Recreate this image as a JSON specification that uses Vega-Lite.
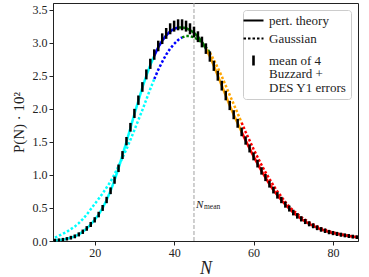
{
"$schema": "https://vega.github.io/schema/vega-lite/v6.json",
"width": 305, "height": 238,
"autosize": "none",
"padding": {"left": 53, "top": 3, "right": 11, "bottom": 36},
"config": {
 "font": "Liberation Serif",
 "view": {"stroke": "#222", "strokeWidth": 1},
 "axis": {"grid": false, "domainColor": "#222", "tickColor": "#222", "labelColor": "#222", "titleColor": "#222", "labelFont": "Liberation Serif", "titleFont": "Liberation Serif", "labelFontSize": 12, "tickSize": 4, "titleFontWeight": "normal", "labelPadding": 2},
 "axisY": {"tickCount": 8, "labelOverlap": false}
},
"datasets": {
 "pert": [
  {"N":10,"p":0.01,"s":"a"},{"N":11,"p":0.015,"s":"a"},{"N":12,"p":0.022,"s":"a"},{"N":13,"p":0.033,"s":"a"},{"N":14,"p":0.05,"s":"a"},{"N":15,"p":0.07,"s":"a"},{"N":16,"p":0.10,"s":"a"},{"N":17,"p":0.14,"s":"a"},{"N":18,"p":0.19,"s":"a"},{"N":19,"p":0.25,"s":"a"},{"N":20,"p":0.32,"s":"a"},{"N":21,"p":0.40,"s":"a"},{"N":22,"p":0.50,"s":"a"},{"N":23,"p":0.62,"s":"a"},{"N":24,"p":0.76,"s":"a"},{"N":25,"p":0.92,"s":"a"},{"N":26,"p":1.10,"s":"a"},{"N":27,"p":1.30,"s":"a"},{"N":28,"p":1.50,"s":"a"},{"N":29,"p":1.71,"s":"a"},{"N":30,"p":1.92,"s":"a"},{"N":31,"p":2.12,"s":"a"},{"N":32,"p":2.32,"s":"a"},{"N":33,"p":2.50,"s":"a"},{"N":34,"p":2.66,"s":"a"},{"N":35,"p":2.80,"s":"a"},
  {"N":35,"p":2.80,"s":"b"},{"N":36,"p":2.93,"s":"b"},{"N":37,"p":3.03,"s":"b"},{"N":38,"p":3.11,"s":"b"},{"N":39,"p":3.17,"s":"b"},{"N":40,"p":3.21,"s":"b"},{"N":41,"p":3.23,"s":"b"},
  {"N":41,"p":3.23,"s":"c"},{"N":42,"p":3.23,"s":"c"},{"N":43,"p":3.22,"s":"c"},{"N":44,"p":3.19,"s":"c"},{"N":45,"p":3.15,"s":"c"},{"N":46,"p":3.09,"s":"c"},{"N":47,"p":3.01,"s":"c"},{"N":48,"p":2.91,"s":"c"},
  {"N":48,"p":2.91,"s":"d"},{"N":49,"p":2.79,"s":"d"},{"N":50,"p":2.65,"s":"d"},{"N":51,"p":2.50,"s":"d"},{"N":52,"p":2.35,"s":"d"},{"N":53,"p":2.20,"s":"d"},{"N":54,"p":2.05,"s":"d"},{"N":55,"p":1.91,"s":"d"},{"N":56,"p":1.78,"s":"d"},{"N":57,"p":1.65,"s":"d"},
  {"N":57,"p":1.65,"s":"e"},{"N":58,"p":1.52,"s":"e"},{"N":59,"p":1.40,"s":"e"},{"N":60,"p":1.28,"s":"e"},{"N":61,"p":1.17,"s":"e"},{"N":62,"p":1.06,"s":"e"},{"N":63,"p":0.96,"s":"e"},{"N":64,"p":0.86,"s":"e"},{"N":65,"p":0.77,"s":"e"},{"N":66,"p":0.69,"s":"e"},{"N":67,"p":0.62,"s":"e"},{"N":68,"p":0.55,"s":"e"},{"N":69,"p":0.49,"s":"e"},{"N":70,"p":0.43,"s":"e"},{"N":71,"p":0.38,"s":"e"},{"N":72,"p":0.335,"s":"e"},{"N":73,"p":0.295,"s":"e"},{"N":74,"p":0.26,"s":"e"},{"N":75,"p":0.23,"s":"e"},{"N":76,"p":0.20,"s":"e"},{"N":77,"p":0.175,"s":"e"},{"N":78,"p":0.155,"s":"e"},{"N":79,"p":0.135,"s":"e"},{"N":80,"p":0.12,"s":"e"},{"N":81,"p":0.107,"s":"e"},{"N":82,"p":0.095,"s":"e"},{"N":83,"p":0.085,"s":"e"},{"N":84,"p":0.075,"s":"e"},{"N":85,"p":0.066,"s":"e"},{"N":86,"p":0.058,"s":"e"}
 ],
 "gauss": [
  {"N":10,"g":0.05,"s":"a"},{"N":11,"g":0.08,"s":"a"},{"N":12,"g":0.11,"s":"a"},{"N":13,"g":0.14,"s":"a"},{"N":14,"g":0.18,"s":"a"},{"N":15,"g":0.22,"s":"a"},{"N":16,"g":0.27,"s":"a"},{"N":17,"g":0.33,"s":"a"},{"N":18,"g":0.40,"s":"a"},{"N":19,"g":0.48,"s":"a"},{"N":20,"g":0.56,"s":"a"},{"N":21,"g":0.64,"s":"a"},{"N":22,"g":0.72,"s":"a"},{"N":23,"g":0.81,"s":"a"},{"N":24,"g":0.90,"s":"a"},{"N":25,"g":1.01,"s":"a"},{"N":26,"g":1.13,"s":"a"},{"N":27,"g":1.26,"s":"a"},{"N":28,"g":1.39,"s":"a"},{"N":29,"g":1.53,"s":"a"},{"N":30,"g":1.68,"s":"a"},{"N":31,"g":1.83,"s":"a"},{"N":32,"g":1.98,"s":"a"},{"N":33,"g":2.14,"s":"a"},{"N":34,"g":2.30,"s":"a"},{"N":35,"g":2.45,"s":"a"},
  {"N":35,"g":2.45,"s":"b"},{"N":36,"g":2.59,"s":"b"},{"N":37,"g":2.71,"s":"b"},{"N":38,"g":2.82,"s":"b"},{"N":39,"g":2.91,"s":"b"},{"N":40,"g":2.98,"s":"b"},{"N":41,"g":3.04,"s":"b"},{"N":42,"g":3.08,"s":"b"},
  {"N":42,"g":3.08,"s":"c"},{"N":43,"g":3.10,"s":"c"},{"N":44,"g":3.10,"s":"c"},{"N":45,"g":3.08,"s":"c"},{"N":46,"g":3.05,"s":"c"},{"N":47,"g":3.00,"s":"c"},{"N":48,"g":2.93,"s":"c"},{"N":49,"g":2.85,"s":"c"},
  {"N":49,"g":2.85,"s":"d"},{"N":50,"g":2.74,"s":"d"},{"N":51,"g":2.62,"s":"d"},{"N":52,"g":2.49,"s":"d"},{"N":53,"g":2.35,"s":"d"},{"N":54,"g":2.21,"s":"d"},{"N":55,"g":2.07,"s":"d"},{"N":56,"g":1.93,"s":"d"},{"N":57,"g":1.79,"s":"d"},
  {"N":57,"g":1.79,"s":"e"},{"N":58,"g":1.65,"s":"e"},{"N":59,"g":1.52,"s":"e"},{"N":60,"g":1.39,"s":"e"},{"N":61,"g":1.27,"s":"e"},{"N":62,"g":1.15,"s":"e"},{"N":63,"g":1.04,"s":"e"},{"N":64,"g":0.94,"s":"e"},{"N":65,"g":0.84,"s":"e"},{"N":66,"g":0.75,"s":"e"},{"N":67,"g":0.67,"s":"e"},{"N":68,"g":0.59,"s":"e"},{"N":69,"g":0.52,"s":"e"},{"N":70,"g":0.46,"s":"e"},{"N":71,"g":0.41,"s":"e"},{"N":72,"g":0.36,"s":"e"},{"N":73,"g":0.32,"s":"e"},{"N":74,"g":0.28,"s":"e"},{"N":75,"g":0.25,"s":"e"},{"N":76,"g":0.22,"s":"e"},{"N":77,"g":0.19,"s":"e"},{"N":78,"g":0.17,"s":"e"},{"N":79,"g":0.15,"s":"e"},{"N":80,"g":0.13,"s":"e"},{"N":81,"g":0.115,"s":"e"},{"N":82,"g":0.10,"s":"e"},{"N":83,"g":0.09,"s":"e"},{"N":84,"g":0.08,"s":"e"},{"N":85,"g":0.07,"s":"e"},{"N":86,"g":0.06,"s":"e"}
 ],
 "bz": [
  {"N":10,"m":0.01,"e":0.024},{"N":11,"m":0.015,"e":0.024},{"N":12,"m":0.022,"e":0.025},{"N":13,"m":0.033,"e":0.026},{"N":14,"m":0.05,"e":0.028},{"N":15,"m":0.07,"e":0.029},{"N":16,"m":0.10,"e":0.031},{"N":17,"m":0.14,"e":0.033},{"N":18,"m":0.19,"e":0.035},{"N":19,"m":0.25,"e":0.038},{"N":20,"m":0.32,"e":0.040},{"N":21,"m":0.40,"e":0.042},{"N":22,"m":0.50,"e":0.045},{"N":23,"m":0.62,"e":0.048},{"N":24,"m":0.76,"e":0.051},{"N":25,"m":0.92,"e":0.054},{"N":26,"m":1.10,"e":0.057},{"N":27,"m":1.30,"e":0.060},{"N":28,"m":1.51,"e":0.063},{"N":29,"m":1.72,"e":0.066},{"N":30,"m":1.93,"e":0.069},{"N":31,"m":2.13,"e":0.071},{"N":32,"m":2.33,"e":0.073},{"N":33,"m":2.52,"e":0.075},{"N":34,"m":2.68,"e":0.077},{"N":35,"m":2.82,"e":0.079},{"N":36,"m":2.95,"e":0.080},{"N":37,"m":3.06,"e":0.081},{"N":38,"m":3.14,"e":0.082},{"N":39,"m":3.21,"e":0.083},{"N":40,"m":3.25,"e":0.083},{"N":41,"m":3.27,"e":0.083},{"N":42,"m":3.27,"e":0.083},{"N":43,"m":3.25,"e":0.083},{"N":44,"m":3.21,"e":0.083},{"N":45,"m":3.16,"e":0.082},{"N":46,"m":3.09,"e":0.082},{"N":47,"m":3.01,"e":0.081},{"N":48,"m":2.91,"e":0.080},{"N":49,"m":2.79,"e":0.078},{"N":50,"m":2.65,"e":0.077},{"N":51,"m":2.50,"e":0.075},{"N":52,"m":2.35,"e":0.074},{"N":53,"m":2.20,"e":0.072},{"N":54,"m":2.05,"e":0.070},{"N":55,"m":1.91,"e":0.068},{"N":56,"m":1.78,"e":0.067},{"N":57,"m":1.65,"e":0.065},{"N":58,"m":1.52,"e":0.063},{"N":59,"m":1.40,"e":0.061},{"N":60,"m":1.28,"e":0.060},{"N":61,"m":1.17,"e":0.058},{"N":62,"m":1.06,"e":0.056},{"N":63,"m":0.96,"e":0.054},{"N":64,"m":0.86,"e":0.052},{"N":65,"m":0.77,"e":0.051},{"N":66,"m":0.69,"e":0.049},{"N":67,"m":0.62,"e":0.048},{"N":68,"m":0.55,"e":0.046},{"N":69,"m":0.49,"e":0.045},{"N":70,"m":0.43,"e":0.043},{"N":71,"m":0.38,"e":0.042},{"N":72,"m":0.335,"e":0.040},{"N":73,"m":0.295,"e":0.039},{"N":74,"m":0.26,"e":0.038},{"N":75,"m":0.23,"e":0.037},{"N":76,"m":0.20,"e":0.036},{"N":77,"m":0.175,"e":0.035},{"N":78,"m":0.155,"e":0.034},{"N":79,"m":0.135,"e":0.033},{"N":80,"m":0.12,"e":0.032},{"N":81,"m":0.107,"e":0.031},{"N":82,"m":0.095,"e":0.031},{"N":83,"m":0.085,"e":0.030},{"N":84,"m":0.075,"e":0.030},{"N":85,"m":0.066,"e":0.029},{"N":86,"m":0.058,"e":0.028}
 ],
 "one": [{"N": 45, "v": 0.54}]
},
"layer": [
 {
  "data": {"name": "one"},
  "mark": {"type": "rule", "color": "#a0a0a0", "strokeWidth": 1, "strokeDash": [4, 2]},
  "encoding": {"x": {"field": "N", "type": "quantitative", "title": "N", "scale": {"domain": [9.5, 86.3], "nice": false, "zero": false}, "axis": {"values": [20, 40, 60, 80], "titleFontSize": 18, "titleFontStyle": "italic", "titlePadding": 1}}}
 },
 {
  "data": {"name": "gauss"},
  "mark": {"type": "line", "strokeWidth": 2.5, "strokeCap": "butt"},
  "encoding": {
   "x": {"field": "N", "type": "quantitative", "title": "N"},
   "y": {"field": "g", "type": "quantitative", "title": "P(N) · 10²", "scale": {"domain": [0, 3.6], "nice": false}, "axis": {"values": [0, 0.5, 1, 1.5, 2, 2.5, 3, 3.5], "format": ".1f", "titleFontSize": 15, "titlePadding": 6}},
   "color": {"field": "s", "type": "nominal", "scale": {"domain": ["a", "b", "c", "d", "e"], "range": ["#00ffff", "#0000ff", "#008000", "#ffa500", "#ff0000"]}, "legend": null},
   "detail": {"field": "s"},
   "strokeDash": {"datum": "Gaussian", "type": "nominal",
    "scale": {"domain": ["pert. theory", "Gaussian", "mean of 4 Buzzard + DES Y1 errors"], "range": [[1, 0], [2.5, 2], [1, 0]]},
    "legend": {"title": null, "orient": "top-right", "offset": 7, "padding": 4, "strokeColor": "#cccccc", "fillColor": "white", "cornerRadius": 3,
     "symbolType": "stroke", "symbolSize": 400, "symbolStrokeWidth": 2, "symbolStrokeColor": "black",
     "labelFont": "Liberation Serif", "labelFontSize": 13, "labelColor": "#222", "labelOffset": 9, "rowPadding": 4, "labelLimit": 220,
     "labelExpr": "datum.value === 'mean of 4 Buzzard + DES Y1 errors' ? ['mean of 4', 'Buzzard +', 'DES Y1 errors'] : datum.value",
     "encode": {
      "labels": {"update": {"lineHeight": {"value": 13.5}}},
      "symbols": {"update": {
      "shape": {"signal": "datum.value === 'mean of 4 Buzzard + DES Y1 errors' ? 'M0,-0.5L0,0.5' : 'stroke'"},
      "strokeWidth": {"signal": "datum.value === 'mean of 4 Buzzard + DES Y1 errors' ? 2.6 : 2"},
      "stroke": {"value": "black"}}}}}}
  }
 },
 {
  "data": {"name": "pert"},
  "mark": {"type": "line", "strokeWidth": 2.5},
  "encoding": {
   "x": {"field": "N", "type": "quantitative", "title": "N"},
   "y": {"field": "p", "type": "quantitative", "title": "P(N) · 10²"},
   "color": {"field": "s", "type": "nominal", "legend": null},
   "detail": {"field": "s"},
   "strokeDash": {"datum": "pert. theory", "type": "nominal"}
  }
 },
 {
  "data": {"name": "bz"},
  "mark": {"type": "errorbar", "thickness": 2.5, "color": "black"},
  "encoding": {
   "x": {"field": "N", "type": "quantitative", "title": "N"},
   "y": {"field": "m", "type": "quantitative", "title": "P(N) · 10²"},
   "yError": {"field": "e"}
  }
 },
 {
  "data": {"name": "one"},
  "mark": {"type": "text", "text": "N", "align": "left", "baseline": "middle", "dx": 2, "fontStyle": "italic", "fontSize": 11, "color": "#222"},
  "encoding": {"x": {"field": "N", "type": "quantitative"}, "y": {"field": "v", "type": "quantitative"}}
 },
 {
  "data": {"name": "one"},
  "mark": {"type": "text", "text": "mean", "align": "left", "baseline": "middle", "dx": 10, "dy": 2, "fontSize": 7.5, "color": "#222"},
  "encoding": {"x": {"field": "N", "type": "quantitative"}, "y": {"field": "v", "type": "quantitative"}}
 }
]
}
